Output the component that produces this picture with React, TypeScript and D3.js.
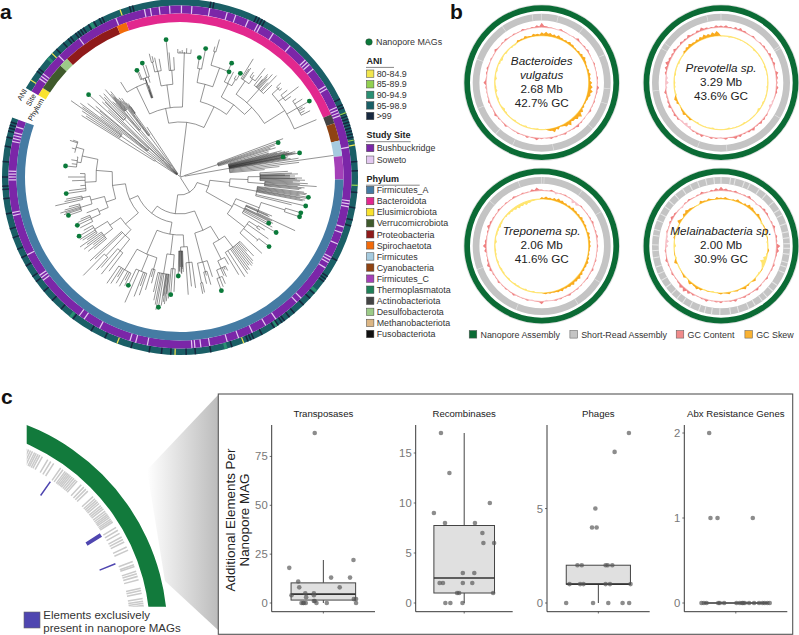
import React from 'react';
import * as d3 from 'd3';

const FONT = '"Liberation Sans", Arial, sans-serif';

// panel a data
const phylumNames = ['Firmicutes_A', 'Bacteroidota', 'Elusimicrobiota', 'Verrucomicrobiota', 'Proteobacteria', 'Spirochaetota', 'Firmicutes', 'Cyanobacteria', 'Firmicutes_C', 'Thermoplasmatota', 'Actinobacteriota', 'Desulfobacterota', 'Methanobacteriota', 'Fusobacteriota'];
const phylumColors = ['#457ba3', '#e2288e', '#f9e22e', '#3f5a2c', '#8f1a1a', '#f26a0a', '#a6cbdf', '#8f4312', '#a440b8', '#1f8058', '#444444', '#9ccb88', '#dcb684', '#111111'];
// [phylum, start angle, end angle] clockwise from north
const phylumSegments: [string, number, number][] = [
  ['Elusimicrobiota', -60, -57],
  ['Verrucomicrobiota', -57, -47],
  ['Desulfobacterota', -47, -43.7],
  ['Proteobacteria', -43.7, -22.7],
  ['Spirochaetota', -22.7, -19.2],
  ['Bacteroidota', -19.2, 67.5],
  ['Actinobacteriota', 67.5, 70.8],
  ['Cyanobacteria', 70.8, 77.1],
  ['Firmicutes', 77.1, 82.6],
  ['Firmicutes_C', 82.6, 90.9],
  ['Firmicutes_A', 90.9, 289.5],
];
const sowetoAngles = [-55, -54, -53, -45, -36, -22, -12, -10, -7, -3.5, 0.5, 4, 10, 16, 19, 23.5, 27, 28, 33, 40, 47, 48, 49, 51, 58, 59, 66, 67, 68, 69, 80, 98, 99, 100, 107, 109, 113, 118, 119, 120, 122, 135, 137, 146, 150, 155, 160, 164, 170, 173, 175, 176, 191, 195, 197, 208, 214, 216, 233, 234, 235, 243, 257, 258, 269, 270, 271, 272, 282, 283, 284, 285, 287];
const aniDarkAngles = [-53.5, -52.5, -44, -41, -39, -38, -36, -35, -34, -33, -31, -29, -27, -26, -16.5, -15.5, 10, 11, 25.5, 26.5, 27.5, 28.5, 64, 66, 67, 69, 70, 71, 72, 73, 74, 75, 76, 77, 78, 85, 88, 95, 100, 104, 106, 118, 124, 125, 126, 131, 133, 136, 140, 142, 144, 145, 146.5, 148, 152.5, 155.5, 156.5, 157.5, 163, 170, 175, 178, 183, 186, 190, 196, 205, 210, 217, 222, 226, 230, 234, 236, 240, 243, 246, 250, 253, 258, 263, 266, 267, 270, 275, 280, 283, 285, 286, 287, 288];
const aniYellowAngles = [-57, -46, -19.7, 79.6, 159, 181.6, 200.7];
const aniGreenAngles = [68.8, 78, 92.7];
const aniTealAngles = [-48, -30, 130, 147, 165, 218];
const aniNames = ['80-84.9', '85-89.9', '90-94.9', '95-98.9', '>99'];
const aniColors = ['#f2e64d', '#92d050', '#2a8f72', '#1a5f66', '#17283f'];
const siteNames = ['Bushbuckridge', 'Soweto'];
const siteColors = ['#7b26a8', '#e3c8f0'];

type TreeNode = {r: number; a?: number; dot?: boolean; c?: TreeNode[]};
const L = (a: number, r: number, dot = false): TreeNode => ({a, r, dot});
const C = (r: number, ...c: TreeNode[]): TreeNode => ({r, c});

// leaf = angle + radial distance, clade = radial distance of the split
const treeData = C(1,
  C(4,
    C(30, L(-58, 116), C(72, L(-57, 112), L(-56, 118), L(-55, 133), L(-54.3, 120), L(-53.5, 124))),
    L(-52.5, 100),
    C(42, L(-51.5, 118), L(-50.5, 104), L(-50, 110), L(-48, 123, true)),
    L(-47, 98),
    C(24, L(-46, 108), C(80, L(-45, 106), L(-44.5, 115), L(-43.5, 110), L(-42.5, 113))),
    C(14, L(-41.7, 101), C(62, L(-41, 98), L(-40.5, 115), C(86, L(-40.1, 104), L(-39.8, 108), L(-39.4, 104), L(-39, 110), L(-38.6, 100), L(-38.2, 97)))),
    C(52, L(-37.6, 100), L(-37, 95), L(-36.5, 98), C(78, L(-36, 92), L(-35.6, 88), L(-35.2, 90), L(-35, 86))),
    L(-33.5, 60),
  ),
  C(55,
    C(70,
      C(100, L(-32, 112), C(105, L(-22, 115, true), L(-21.3, 113), L(-20.6, 103), C(84, L(-20, 100), L(-19.6, 92), L(-19.3, 103), L(-18.8, 97)), L(-18.3, 120, true), L(-17.6, 99), L(-17, 117))),
      C(93, C(108, C(118, L(-14, 127), L(-13, 124)), L(-12, 122), L(-10, 120)), C(107, L(-5.8, 138, true), L(-5, 125), L(-3, 120))),
      C(105, C(124, L(-1, 128), L(0, 126), L(1, 127), L(2, 125), L(3, 129), L(5, 128))),
    ),
    C(78,
      C(96, C(110, L(9.2, 121, true), L(11.3, 131, true)), C(116, C(130, L(15, 135), L(16, 143)), L(24.4, 125, true))),
      C(90,
        C(105, L(25, 116, true), L(26, 105), L(27, 118), C(112, L(29, 116), L(30.2, 120, true))),
        C(100,
          C(116, L(31.8, 139), L(32.5, 128), L(33, 130), C(122, L(35, 128), L(36, 126), L(38, 138))),
          C(118, L(39, 130), L(40.2, 128), L(40.5, 135), L(41, 133), L(41.5, 131), L(42, 138), L(43, 129), L(43.6, 140), L(45, 130)),
          C(124, C(132, L(47, 138), L(48, 134), L(49, 135)), C(130, L(51, 138), L(52.7, 149), L(54, 137)), C(136, L(56, 140), L(57.5, 145), L(59.6, 150, true), L(60.3, 141), L(61, 143), L(62, 141), L(63, 146)), L(67.2, 148)),
        ),
      ),
    ),
  ),
  C(5,
    C(40, L(69.6, 110), L(70.7, 104, true), L(71.5, 100), L(72.3, 95), L(73, 100), L(74, 92)),
    C(50, L(75, 92), L(75.5, 105), L(76, 100), L(76.4, 108), L(76.8, 112), L(77.2, 110), L(77.6, 118), L(77.8, 112), L(78, 115), L(78.3, 118), L(78.6, 122, true), L(79, 105, true), L(79.2, 106), L(79.4, 110), L(79.7, 108), L(80, 108), L(80.5, 112), L(81, 120), L(82, 155), L(83, 120), L(84, 100), L(85, 85)),
  ),
  C(18,
    C(30,
      C(50,
        C(68,
          C(80, L(87, 108), L(88, 112), L(88.5, 118), L(89, 105), L(89.2, 110), L(89.5, 115), L(90, 110), L(90.5, 122), L(90.8, 115), L(91, 117), L(91.5, 125), L(92, 120), L(92.5, 113)),
          C(85, L(93, 128), L(93.5, 120), L(94, 137), L(94.6, 118), L(95, 125), L(95.5, 122), L(96, 120)),
        ),
        C(78, L(97, 125), L(97.5, 128), L(98, 127), L(98.5, 121), L(99, 130, true), L(99.6, 128), L(100, 122), L(100.5, 127), L(101, 125), L(103, 129, true), L(104, 115)),
      ),
      C(60,
        C(85, C(110, L(106.5, 126, true), L(108.4, 126, true)), L(115, 127)),
        C(72, L(113, 100), L(113.6, 96), L(114, 98), L(115.5, 102), L(116, 100), L(116.5, 104), L(117.5, 100, true), L(118.5, 105), L(120, 111, true)),
        C(82, C(92, L(122, 100), L(123.5, 96)), L(125, 108), C(100, L(128, 113, true), L(130, 100)), L(133, 112)),
      ),
    ),
    C(37,
      C(58,
        C(74,
          C(88, L(137, 108), L(138, 100), L(139, 111), L(140, 113), L(141, 114), L(142, 112), L(143, 116), L(144, 115), L(145, 118), L(147, 119), L(149, 114)),
          C(92, L(151, 100), C(100, L(153, 105), L(154, 103), L(155, 110), L(156, 108), C(108, L(157, 116), L(158.5, 118), L(160, 121, true)))),
        ),
        C(88, L(162, 105), C(98, L(164, 112), L(165, 102), L(166, 110)), C(108, L(168, 118), L(169, 119))),
      ),
      C(46,
        C(58,
          C(70,
            C(86, L(172, 112), L(174, 110), L(176, 118)),
            C(74, L(178, 95), L(178.4, 90), L(178.6, 92), L(179, 97), L(179.2, 96), L(179.8, 90), L(180.1, 95), L(180.4, 94), L(181, 99, true)),
          ),
          C(78,
            C(92, L(183, 115), L(184.5, 118, true), L(185.5, 122)),
            C(98, L(186.3, 125), L(186.7, 118), L(187, 128), L(187.6, 126), L(188, 120), L(188.3, 130), L(189.4, 132, true), L(190.3, 135), L(191, 130), L(192, 126), L(193, 118)),
          ),
          C(84,
            C(96, L(195, 110), L(196, 104), L(197, 118)),
            C(102, L(199, 125), L(200, 116), L(201, 128), L(203.7, 137), L(205.5, 120, true)),
            C(108, L(207, 122), L(208, 117), L(209, 125), L(211, 124), L(212, 118), L(213, 127), L(214.5, 129)),
          ),
        ),
        C(55,
          C(72,
            C(80, C(108, L(224.5, 138), L(222, 125)), L(226, 118), L(227, 123), C(95, L(217, 118), L(219, 125), L(221, 120))),
            C(85, C(96, L(230, 112), L(231, 118), L(232, 110), L(233, 120), L(234, 115), L(235, 122)), C(100, L(236, 112), L(237, 116), L(238, 118), L(239.6, 117, true), L(241, 110))),
          ),
          C(68,
            C(78,
              C(88, C(98, L(243, 112), L(244.8, 113.5, true), L(246, 112), L(247, 108)), L(249, 100)),
              C(92, C(104, L(251, 118, true), L(252, 122), L(252.6, 120), L(253.2, 125), L(254, 120), L(255, 115)), C(100, L(257, 128), L(258, 118), L(259, 116))),
            ),
            C(84,
              C(95, L(261.7, 115, true), L(263, 112), L(265, 100), L(268, 108), L(270, 112), L(272, 100)),
              C(100, C(104, L(275.5, 115, true), L(277, 109), L(279, 110), L(281, 105)), C(108, L(283, 108), L(285, 112), L(288.4, 116), L(289, 113))),
            ),
          ),
        ),
      ),
    ),
  ),
);

// panel b data: each track is sampled every 5 degrees, clockwise from north
const genomeNames = [['Bacteroides', 'vulgatus'], ['Prevotella sp.'], ['Treponema sp.'], ['Melainabacteria sp.']];
const genomeSizes = ['2.68 Mb', '3.29 Mb', '2.06 Mb', '2.00 Mb'];
const genomeGC = ['42.7% GC', '43.6% GC', '41.6% GC', '30.9% GC'];
const skewBacteroides = [5, 6, 5, 4, 5, 3, 3, 4, 3, 2, 3, 4, 5, 3, 2, 3, 4, 3, 5, 6, 7, 5, 3, 2, 3, 5, 8, 6, 4, 7, 5, 2, 4, 6, 3, -1, -1, -2, -1, -1, -2, -1, -1, -2, -1, -1, -2, -3, -1, -1, -2, -1, -3, -2, -1, -3, -1, -2, -1, -2, -3, -1, -2, -1, -2, -2, 3, 2, 4, 2, 4, 3];
const skewPrevotella = [-1, -1, -2, -1, -1, -1, -1, -1, -1, -2, -1, -1, -1, -1, -2, -1, -1, -1, -1, -2, -1, -1, -1, -2, -1, -3, -1, -1, -1, -1, -2, -1, -1, -1, -2, -1, -1, -1, -2, -1, -1, -1, -2, -1, 3, 2, 4, 2, -1, 3, 4, -2, -1, -2, -2, -1, -2, -1, -1, -2, -1, -1, 3, 4, 5, 3, 4, 5, 6, 5, 6, 7];
const skewTreponema = [3, 4, 3, 4, 5, 4, 3, 3, 4, 3, 3, 4, 3, 3, 2, 4, 3, 3, 3, 2, 2, 3, 4, 3, 3, 4, 5, 4, 5, 4, 3, 4, 3, 2, 2, 2, -1, -1, -2, -1, -2, -1, -2, -2, -1, -2, -1, -2, -2, -1, -2, -1, -2, -2, -1, -3, -1, -2, -2, -3, -2, -1, -2, -3, -3, -4, -5, -4, -5, -3, -2, -1];
const skewMelainabacteria = [2, 3, 1, 2, 4, 2, 3, 5, 4, 2, 4, 2, -2, 1, 3, -3, 1, -2, -1, 2, -2, -5, -8, -3, 1, -2, -1, 3, -1, 2, 4, 1, 2, -1, 3, 1, 2, -1, -2, 1, -1, 3, 4, 2, 4, -1, 3, 1, -1, -1, 4, -2, 1, -1, -3, -1, 2, -3, 1, -1, 5, 1, 4, 5, 3, 1, -1, 4, 2, 3, 1, 3];
const gcBacteroides = [8, 2, 1, -1, 3, 1, -2, 1, 4, 1, 2, 3, 1, -1, 2, 1, 1, 2, 1, 4, 2, 1, 2, 1, 3, -1, 1, 2, 4, 2, 1, 3, 1, 2, 3, 1, 2, 4, 1, 3, 1, 2, 1, -1, 3, 1, 2, 4, 1, 2, 3, 1, 1, 2, 5, 1, 2, 3, 1, 2, 1, 4, 1, 2, 3, 1, 2, 1, 3, 1, 2, 4];
const gcPrevotella = [3, 4, 2, 4, 5, 3, 1, 3, -2, 2, 3, 2, 4, 3, 4, 1, 5, 3, 2, 4, 3, 1, -3, -5, -2, 2, 3, 4, 2, 5, 3, 2, 4, 5, 1, 3, -2, 2, 3, 1, 4, 3, 2, -5, -6, -3, 3, 4, 2, 5, 3, 2, 4, -3, -6, -4, 3, 5, 7, 4, 3, 5, 2, 4, 3, 5, 2, 4, 6, 3, 2, 4];
const gcTreponema = [2, 1, 3, -4, 1, 2, 1, -6, -5, 2, 1, 1, 2, 3, 1, 2, 3, 1, 2, 1, 1, 2, 1, 3, 1, 2, 1, 1, 2, 1, 3, 1, 2, 2, -1, -3, 5, 1, -2, 2, 1, 1, 3, 1, 2, 1, 3, 1, 2, 4, 5, 2, 1, 4, 6, 3, 1, 2, 5, 3, 2, 1, 3, 1, 2, 1, 3, 1, 2, 1, 4, 6];
const gcMelainabacteria = [7, 4, 2, 3, 1, 2, 4, 1, -3, 2, 4, 3, 1, 2, 4, 1, 3, 2, 7, 5, 2, 1, 3, 2, 1, 3, 1, 2, 4, 1, 2, 3, 1, 4, 2, 1, 3, 2, 1, 4, 2, 1, 3, 5, 7, 6, 2, 1, 3, 1, 2, 4, 1, 2, -5, -6, -3, 2, 1, 3, 5, 3, 1, -3, 2, 3, 1, 2, 4, 1, 3, 5];
const genomeSkew = [skewBacteroides, skewPrevotella, skewTreponema, skewMelainabacteria];
const genomeContent = [gcBacteroides, gcPrevotella, gcTreponema, gcMelainabacteria];
const shortReadGaps = [
  [0, 14, 37, 66, 95, 108, 132, 170, 205, 222, 248, 290, 325, 352],
  [0, 58, 60, 121, 175, 200, 263, 300, 305, 348],
  [0, 2, 36, 60, 122, 148, 202, 250, 311, 340],
  [0, 8, 12, 20, 25, 34, 41, 50, 58, 63, 71, 78, 83, 88, 92, 97, 104, 108, 113, 125, 131, 138, 143, 150, 156, 165, 172, 181, 188, 194, 199, 207, 214, 220, 226, 233, 240, 246, 252, 260, 266, 271, 279, 284, 292, 298, 305, 311, 318, 326, 333, 340, 347, 354],
];
const assemblyLegend = ['Nanopore Assembly', 'Short-Read Assembly', 'GC Content', 'GC Skew'];
const assemblyColors = ['#0b6b35', '#c4c4c4', '#f08a8a', '#f9b233'];

// panel c data
const facetTitles = ['Transposases', 'Recombinases', 'Phages', 'Abx Resistance Genes'];
const transposaseValues = [87, 18, 11, 8, 22, 13, 13, 8, 5, 5, 4, 4, 3, 2, 2, 1, 0, 0, 0, 0, 0, 0, 0, 1];
const transposaseJitter = [0.9, 0.604, 0.708, 0.72, 1.35, 1.09, 1.31, 1.19, 0.79, 0.89, 0.63, 0.89, 0.8, 1.354, 1.38, 0.89, 0.746, 0.773, 0.796, 0.92, 1.04, 1.38, 0.765, 0.9];
const recombinaseValues = [17, 13, 9, 10, 8, 8, 7, 6, 6, 3, 3, 2, 2, 2, 2, 1, 1, 1, 0, 0, 0];
const recombinaseJitter = [0.7125, 0.817, 0.625, 1.317, 0.7625, 1.133, 1.225, 1.2375, 1.37, 0.983, 1.125, 0.696, 0.7375, 0.983, 1.1, 0.9125, 0.9375, 1.358, 0.767, 0.829, 0.979];
const phageValues = [9, 8, 5, 4, 4, 2, 2, 2, 2, 2, 1, 1, 1, 1, 1, 1, 0, 0, 0, 0, 0];
const phageJitter = [1.357, 1.19, 0.965, 0.926, 0.98, 0.756, 0.806, 1.085, 1.109, 1.163, 0.663, 0.787, 0.826, 1.085, 1.136, 1.376, 0.624, 0.938, 1.116, 1.283, 1.36];
const abxValues = [2, 1, 1, 1, 0, 0, 0, 0, 0, 0, 0, 0, 0, 0, 0, 0, 0, 0, 0, 0, 0, 0];
const abxJitter = [0.69, 0.705, 0.787, 1.198, 0.6, 0.628, 0.659, 0.795, 0.814, 0.864, 1.008, 1.047, 1.074, 1.085, 1.105, 1.155, 1.213, 1.271, 1.31, 1.337, 1.368, 1.395];
const facetValues = [transposaseValues, recombinaseValues, phageValues, abxValues];
const facetJitter = [transposaseJitter, recombinaseJitter, phageJitter, abxJitter];
// whisker low, q1, median, q3, whisker high
const facetBoxes = [[0, 1.5, 4.5, 10.3, 22], [0, 1, 2.5, 7.75, 17], [0, 1, 1, 2, 2], [0, 0, 0, 0, 0]];
const facetTicks = [[0, 25, 50, 75], [0, 5, 10, 15], [0, 5], [0, 1, 2]];
const facetMax = [87, 17, 9, 2];
const facetLeft = [271.7, 415.7, 547, 684.3];
const facetRight = [375, 512.7, 649.7, 787.3];

const geneTicks = [22, 23, 24, 24.6, 25.2, 25.8, 26.5, 27, 27.6, 28.2, 29, 30.8, 31.8, 32.8, 35.2, 36, 36.8, 37.3, 37.8, 38.3, 38.8, 39.4, 40, 40.6, 41.2, 42.8, 43.8, 44.6, 45.4, 47.6, 48.4, 49, 49.6, 50.2, 51, 51.6, 52.2, 53, 53.6, 54.2, 54.7, 55.2, 55.8, 56.3, 56.8, 58.6, 59.6, 60.6, 61.8, 62.6, 63.4, 65, 66, 69.5, 70.5, 71, 72.5, 73.2, 74, 75, 77.5, 78.2, 79, 80.5, 81.3, 81.9, 82.5, 83, 83.5];
// [angle, width] of the extra elements
const extraElements = [[35, 0.5], [58.2, 1.3], [68.3, 0.5]];

const deg = d3.scaleLinear().domain([0, 360]).range([0, 2 * Math.PI]);
const arc = d3.arc<{inner: number; outer: number; start: number; end: number}>()
  .innerRadius(d => d.inner)
  .outerRadius(d => d.outer)
  .startAngle(d => deg(d.start))
  .endAngle(d => deg(d.end));
const polar = (a: number, r: number): [number, number] => [r * Math.sin(deg(a)), -r * Math.cos(deg(a))];

function PhyloTree() {
  const root = d3.hierarchy(treeData, d => d.c);
  root.eachAfter(n => {
    if (n.children) {
      const ext = d3.extent(n.children, c => c.data.a as number) as [number, number];
      n.data.a = (ext[0] + ext[1]) / 2;
    }
  });
  const path = d3.path();
  root.each(n => {
    const a = n.data.a as number;
    if (n.parent) {
      const p0 = polar(a, n.parent.data.r);
      const p1 = polar(a, n.data.r);
      path.moveTo(p0[0], p0[1]);
      path.lineTo(p1[0], p1[1]);
    }
    if (n.children) {
      const ext = d3.extent(n.children, c => c.data.a as number) as [number, number];
      const p0 = polar(ext[0], n.data.r);
      path.moveTo(p0[0], p0[1]);
      path.arc(0, 0, n.data.r, deg(ext[0]) - Math.PI / 2, deg(ext[1]) - Math.PI / 2);
    }
  });
  return (
    <g>
      <path d={path.toString()} fill="none" stroke="#2a2a2a" strokeWidth={0.5} />
      {root.leaves().filter(l => l.data.dot).map((l, i) => {
        const p = polar(l.data.a as number, l.data.r);
        return <circle key={i} cx={p[0]} cy={p[1]} r={2.4} fill="#0b7a3a" />;
      })}
    </g>
  );
}

function Stripes({angles, inner, outer, fill, width}: {angles: number[]; inner: number; outer: number; fill: string; width: number}) {
  return (
    <g>
      {angles.map((a, i) => (
        <path key={i} d={arc({inner, outer, start: a - width / 2, end: a + width / 2}) as string} fill={fill} />
      ))}
    </g>
  );
}

function CircularTree() {
  const ring = (inner: number, outer: number, fill: string) => (
    <path d={arc({inner, outer, start: -60, end: 289.5}) as string} fill={fill} />
  );
  const labels: [string, number][] = [['ANI', 175.4], ['Site', 165], ['Phylum', 156]];
  return (
    <g transform="translate(180,177)">
      {ring(171.5, 178, aniColors[3])}
      <Stripes angles={aniTealAngles} inner={171.5} outer={178} fill={aniColors[2]} width={1} />
      <Stripes angles={aniDarkAngles} inner={171.5} outer={178} fill={aniColors[4]} width={0.5} />
      <Stripes angles={aniGreenAngles} inner={171.5} outer={178} fill={aniColors[1]} width={0.4} />
      <Stripes angles={aniYellowAngles} inner={171.5} outer={178} fill={aniColors[0]} width={0.4} />
      {ring(163.5, 171.5, siteColors[0])}
      <Stripes angles={sowetoAngles} inner={163.5} outer={171.5} fill={siteColors[1]} width={0.42} />
      {phylumSegments.map(([name, start, end]) => (
        <path key={name} d={arc({inner: 155, outer: 163.5, start, end}) as string} fill={phylumColors[phylumNames.indexOf(name)]} />
      ))}
      <PhyloTree />
      {labels.map(([t, r]) => {
        const p = polar(299.5, r);
        return (
          <text key={t} x={p[0]} y={p[1]} transform={`rotate(-60 ${p[0]} ${p[1]})`} textAnchor="end" fontSize={7.4} fill="#222">{t}</text>
        );
      })}
    </g>
  );
}

function Legend() {
  const row = (y: number, fill: string, label: string) => (
    <g key={label}>
      <rect x={366.5} y={y - 3.7} width={7.4} height={7.4} fill={fill} stroke="#444" strokeWidth={0.5} />
      <text x={376.7} y={y + 3.2} fontSize={8.9} fill="#333">{label}</text>
    </g>
  );
  const head = (y: number, label: string, x2: number) => (
    <g>
      <text x={366.5} y={y} fontSize={9} fontWeight="bold" fill="#222">{label}</text>
      <line x1={366} x2={x2} y1={y + 3.4} y2={y + 3.4} stroke="#555" strokeWidth={0.7} />
    </g>
  );
  const aniY = d3.scaleLinear().domain([0, 4]).range([73.7, 116]);
  const phylumY = d3.scaleLinear().domain([0, 13]).range([190, 334]);
  return (
    <g>
      <circle cx={369} cy={42} r={3.3} fill="#0b7a3a" stroke="#333" strokeWidth={0.4} />
      <text x={376} y={45} fontSize={8.9} fill="#333">Nanopore MAGs</text>
      {head(64, 'ANI', 394)}
      {aniNames.map((n, i) => row(aniY(i), aniColors[i], n))}
      {head(138.3, 'Study Site', 410.7)}
      {siteNames.map((n, i) => row(148 + i * 11.7, siteColors[i], n))}
      {head(181.8, 'Phylum', 419.7)}
      {phylumNames.map((n, i) => row(phylumY(i), phylumColors[i], n))}
    </g>
  );
}

function Track({values, base, unit, low, posFill, negFill, line, lineWidth}: {values: number[]; base: number; unit: number; low: number; posFill: string; negFill: string; line: string; lineWidth: number}) {
  const step = 360 / values.length;
  // a low point between samples keeps the peaks narrow, as in the genome plots
  const pts: [number, number][] = values.flatMap((v, i) => [[i * step, v], [(i + 0.5) * step, v * low]] as [number, number][]);
  pts.push([360, values[0]]);
  const area = (f: (v: number) => number) => d3.areaRadial<[number, number]>()
    .angle(d => deg(d[0]))
    .innerRadius(base)
    .outerRadius(d => base + f(d[1]) * unit)(pts) as string;
  return (
    <g>
      <circle r={base} fill="none" stroke={line} strokeWidth={lineWidth} />
      <path d={area(v => Math.min(v, 0))} fill={negFill} />
      <path d={area(v => Math.max(v, 0))} fill={posFill} />
    </g>
  );
}

function GenomeRing({i, cx, cy}: {i: number; cx: number; cy: number}) {
  const names = genomeNames[i];
  const lines = [...names, genomeSizes[i], genomeGC[i]];
  const firstY = lines.length === 4 ? -17.7 : -10.9;
  return (
    <g transform={`translate(${cx},${cy})`}>
      <circle r={77.8} fill="none" stroke="#cfcfcf" strokeWidth={0.7} />
      <path d={arc({inner: 71.7, outer: 77.4, start: 0, end: 360}) as string} fill={assemblyColors[0]} />
      <path d={arc({inner: 62.3, outer: 69, start: 0, end: 360}) as string} fill={assemblyColors[1]} />
      <Stripes angles={shortReadGaps[i]} inner={62.3} outer={69} fill="#e6e6e6" width={i === 3 ? 0.9 : 0.5} />
      <Track values={genomeContent[i]} base={55.5} unit={0.55} low={0.3} posFill="#ef8080" negFill="#f7c0c8" line="#f7b4b4" lineWidth={0.7} />
      <Track values={genomeSkew[i]} base={47} unit={0.7} low={0.55} posFill="#f9ab1e" negFill="#ffe56e" line="#ffe478" lineWidth={1.1} />
      {lines.map((t, k) => (
        <text key={t} x={0} y={firstY + k * 14} textAnchor="middle" fontSize={11.7} fill="#222"
          fontStyle={k < names.length ? 'italic' : 'normal'}>{t}</text>
      ))}
    </g>
  );
}

function GenomePanel() {
  const swatchX = [473, 573.7, 680, 748.7];
  return (
    <g>
      <GenomeRing i={0} cx={541.7} cy={82.7} />
      <GenomeRing i={1} cx={721} cy={82.7} />
      <GenomeRing i={2} cx={541.7} cy={246} />
      <GenomeRing i={3} cx={721} cy={246} />
      {assemblyLegend.map((t, i) => (
        <g key={t}>
          <rect x={swatchX[i] - 3.8} y={330.5} width={7.6} height={7.6} fill={assemblyColors[i]} stroke="#555" strokeWidth={0.5} />
          <text x={swatchX[i] + 7.5} y={337.5} fontSize={8.9} fill="#333">{t}</text>
        </g>
      ))}
    </g>
  );
}

function GenomeZoom() {
  const clip = 'c-arc-clip';
  return (
    <g>
      <defs>
        <clipPath id={clip}><rect x={26.7} y={380} width={200} height={226.7} /></clipPath>
        <linearGradient id="wedge-grad" x1="0" x2="1" y1="0" y2="0">
          <stop offset="0" stopColor="#ffffff" />
          <stop offset="1" stopColor="#bcbcbc" />
        </linearGradient>
      </defs>
      <path d={d3.line()([[218, 395], [147, 470], [165, 581], [218, 630]]) as string} fill="url(#wedge-grad)" />
      <g clipPath={`url(#${clip})`}>
        <g transform="translate(-54.6,631.5)">
          <path d={arc({inner: 204.5, outer: 222, start: 15, end: 95}) as string} fill="#127a3c" />
          <Stripes angles={geneTicks} inner={185} outer={200} fill="#cacaca" width={0.45} />
          {extraElements.map(([a, w]) => (
            <path key={a} d={arc({inner: 166, outer: 183, start: a - w / 2, end: a + w / 2}) as string} fill="#4f46b0" />
          ))}
        </g>
      </g>
      <rect x={24} y={612} width={16} height={16} fill="#4f46b0" stroke="#666" strokeWidth={0.6} />
      <text x={43.3} y={618.5} fontSize={11.5} fill="#333">Elements exclusively</text>
      <text x={43.3} y={632} fontSize={11.5} fill="#333">present in nanopore MAGs</text>
    </g>
  );
}

function Facet({i}: {i: number}) {
  const x = d3.scaleLinear().domain([0.4, 1.6]).range([facetLeft[i], facetRight[i]]);
  const y = d3.scaleLinear().domain([0, facetMax[i]]).range([603, 433]);
  const [lo, q1, med, q3, hi] = facetBoxes[i];
  const mid = x(1);
  return (
    <g>
      <text x={mid} y={417} textAnchor="middle" fontSize={9.6} fill="#222">{facetTitles[i]}</text>
      <line x1={mid} x2={mid} y1={y(lo)} y2={y(q1)} stroke="#444" strokeWidth={1} />
      <line x1={mid} x2={mid} y1={y(q3)} y2={y(hi)} stroke="#444" strokeWidth={1} />
      <rect x={x(0.625)} width={x(1.375) - x(0.625)} y={y(q3)} height={y(q1) - y(q3)} fill="#e0e0e0" stroke="#444" strokeWidth={1} />
      <line x1={x(0.625)} x2={x(1.375)} y1={y(med)} y2={y(med)} stroke="#333" strokeWidth={1.7} />
      {facetValues[i].map((v, k) => (
        <circle key={k} cx={x(facetJitter[i][k])} cy={y(v)} r={2.3} fill="#555" fillOpacity={0.68} />
      ))}
      <line x1={facetLeft[i]} x2={facetLeft[i]} y1={425} y2={611.7} stroke="#222" strokeWidth={0.9} />
      <line x1={facetLeft[i]} x2={facetRight[i]} y1={611.7} y2={611.7} stroke="#222" strokeWidth={0.9} />
      <line x1={mid} x2={mid} y1={611.7} y2={613.5} stroke="#333" strokeWidth={0.7} />
      {facetTicks[i].map(t => (
        <g key={t}>
          <line x1={facetLeft[i] - 2} x2={facetLeft[i]} y1={y(t)} y2={y(t)} stroke="#333" strokeWidth={0.7} />
          <text x={facetLeft[i] - 4} y={y(t) + 4} textAnchor="end" fontSize={11.3} fill="#777">{t}</text>
        </g>
      ))}
    </g>
  );
}

export default function App() {
  return (
    <svg width={799} height={635} style={{position: 'absolute', left: 0, top: 0, fontFamily: FONT}}>
      <rect width={799} height={635} fill="#ffffff" />
      <text x={0} y={19} fontSize={21} fontWeight="bold" fill="#111">a</text>
      <text x={450} y={19} fontSize={21} fontWeight="bold" fill="#111">b</text>
      <text x={1} y={404} fontSize={21} fontWeight="bold" fill="#111">c</text>
      <CircularTree />
      <Legend />
      <GenomePanel />
      <GenomeZoom />
      <rect x={218.3} y={394} width={574.4} height={240.3} fill="#fff" stroke="#555" strokeWidth={1.1} />
      {facetTitles.map((_, i) => <Facet key={i} i={i} />)}
      <text transform="translate(235,520) rotate(-90)" textAnchor="middle" fontSize={13.4} fill="#222">Additional Elements Per</text>
      <text transform="translate(249,520) rotate(-90)" textAnchor="middle" fontSize={13.4} fill="#222">Nanopore MAG</text>
    </svg>
  );
}
